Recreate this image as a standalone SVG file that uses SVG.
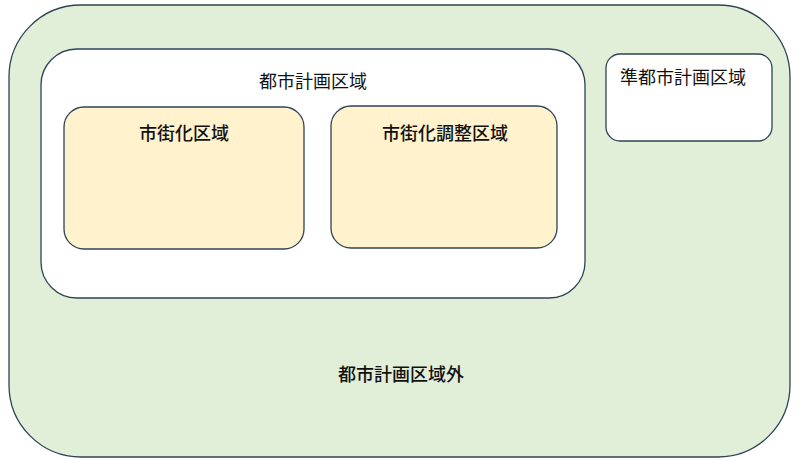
<svg xmlns="http://www.w3.org/2000/svg" width="800" height="462" viewBox="0 0 800 462">
<style>
.box{stroke:#2e4356;stroke-width:1.3}
.t{font-family:"Noto Sans CJK JP","Noto Sans",sans-serif;font-size:18px;fill:#111;text-anchor:middle}
.b{font-weight:500}
</style>
<rect width="800" height="462" fill="#ffffff"/>
<g id="outside">
<rect class="box" x="9" y="5" width="781" height="452" rx="72" ry="72" fill="#e1eed8"/>
<text class="t b" x="401" y="381">都市計画区域外</text>
</g>
<g id="city-planning">
<rect class="box" x="41" y="49" width="544" height="249" rx="36" ry="36" fill="#ffffff"/>
<text class="t" x="313" y="88">都市計画区域</text>
</g>
<g id="urbanization">
<rect class="box" x="64" y="107" width="240" height="142" rx="20" ry="20" fill="#fff2cc"/>
<text class="t b" x="184" y="140">市街化区域</text>
</g>
<g id="control">
<rect class="box" x="331" y="106" width="226" height="142" rx="20" ry="20" fill="#fff2cc"/>
<text class="t b" x="445" y="140">市街化調整区域</text>
</g>
<g id="quasi">
<rect class="box" x="606" y="54" width="166" height="87" rx="14" ry="14" fill="#ffffff"/>
<text class="t" x="683" y="84">準都市計画区域</text>
</g>
<g id="connectors"></g>
</svg>
